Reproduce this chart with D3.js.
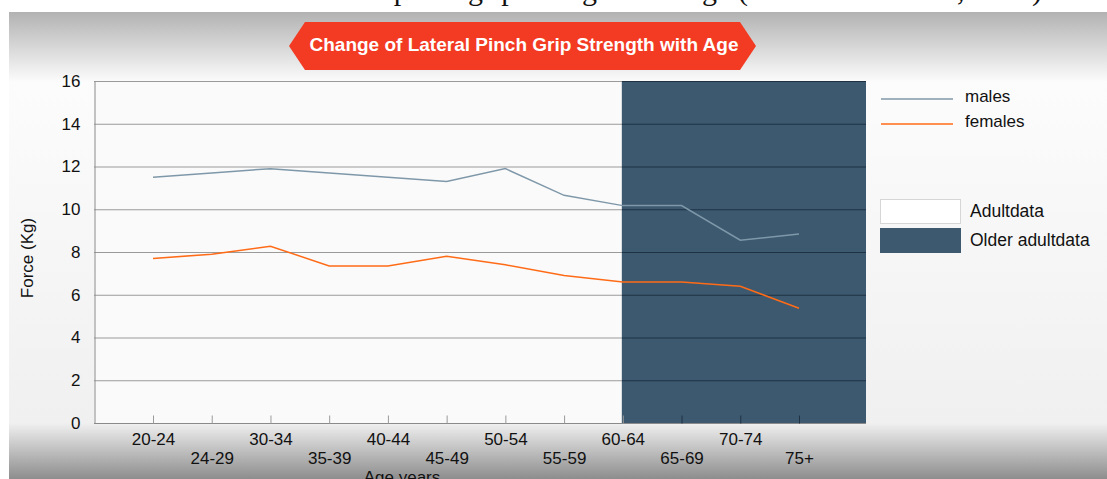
<!DOCTYPE html>
<html>
<head>
<meta charset="utf-8">
<script src="https://cdn.jsdelivr.net/npm/d3@7"></script>
<style>
  body { margin: 0; background: #fff; }
  svg { display: block; font-family: "Liberation Sans", Arial, Helvetica, sans-serif; }
</style>
</head>
<body>
<div id="chart"></div>
<script>
// data
var ageGroups = ['20-24', '24-29', '30-34', '35-39', '40-44', '45-49', '50-54', '55-59', '60-64', '65-69', '70-74', '75+'];
var malesForce = [11.5, 11.7, 11.9, 11.7, 11.5, 11.3, 11.9, 10.65, 10.17, 10.17, 8.55, 8.84];
var femalesForce = [7.7, 7.9, 8.27, 7.35, 7.35, 7.8, 7.4, 6.9, 6.6, 6.6, 6.4, 5.37];
var yTicks = [0, 2, 4, 6, 8, 10, 12, 14, 16];
var olderStart = '60-64';

var seriesNames = ['males', 'females'];
var seriesColors = ['#7f98a9', '#ff6b17'];
var regionNames = ['Adultdata', 'Older adultdata'];
var regionColors = ['#ffffff', '#3c596f'];

var width = 1107, height = 479;
var plotLeft = 94, plotRight = 866, plotTop = 81, plotBottom = 423;

var svg = d3.select('#chart').append('svg')
  .attr('width', width)
  .attr('height', height);

var defs = svg.append('defs');
var bg = defs.append('linearGradient')
  .attr('id', 'slideBg')
  .attr('x1', 0).attr('y1', 0).attr('x2', 0).attr('y2', 1);
bg.append('stop').attr('offset', 0).attr('stop-color', '#b2b2b2');
bg.append('stop').attr('offset', 0.15).attr('stop-color', '#fcfcfc');
bg.append('stop').attr('offset', 0.88).attr('stop-color', '#f0f0f0');
bg.append('stop').attr('offset', 1).attr('stop-color', '#8d8d8d');

// bit of the document text above the slide (mostly hidden, like the screenshot)
svg.append('text')
  .attr('x', 1042)
  .attr('y', 0)
  .attr('text-anchor', 'end')
  .attr('font-family', '"Liberation Serif", "DejaVu Serif", serif')
  .attr('font-size', 30)
  .attr('fill', '#111')
  .text('pinch grip strength with age (Mathiowetz et al., 1985)');

// slide background
svg.append('rect')
  .attr('x', 9).attr('y', 12)
  .attr('width', width - 9).attr('height', height - 12)
  .attr('fill', 'url(#slideBg)');

// title banner
var bannerPts = [[289, 46], [305, 22], [740, 22], [756, 46], [740, 70], [305, 70]];
svg.append('polygon')
  .attr('points', bannerPts.map(function(p){ return p.join(','); }).join(' '))
  .attr('fill', '#f33a22');
svg.append('text')
  .attr('x', 524)
  .attr('y', 51)
  .attr('text-anchor', 'middle')
  .attr('font-weight', 'bold')
  .attr('font-size', 19)
  .attr('fill', '#fff')
  .text('Change of Lateral Pinch Grip Strength with Age');

var x = d3.scalePoint()
  .domain(ageGroups)
  .range([153, 799]);

var y = d3.scaleLinear()
  .domain([0, 16])
  .range([plotBottom, plotTop]);

// plot background and older-adult band
svg.append('rect')
  .attr('x', plotLeft).attr('y', plotTop)
  .attr('width', plotRight - plotLeft).attr('height', plotBottom - plotTop)
  .attr('fill', '#fafafa');

svg.append('rect')
  .attr('x', x(olderStart) - 1).attr('y', plotTop)
  .attr('width', plotRight - x(olderStart) + 1).attr('height', plotBottom - plotTop)
  .attr('fill', regionColors[1]);

// gridlines, light part then dark part
svg.append('g').selectAll('line')
  .data(yTicks.slice(1))
  .enter()
  .append('line')
  .attr('x1', plotLeft).attr('x2', x(olderStart) - 1)
  .attr('y1', function(d){ return y(d) + 0.5; })
  .attr('y2', function(d){ return y(d) + 0.5; })
  .attr('stroke', '#9a9a9a');

svg.append('g').selectAll('line')
  .data(yTicks.slice(1))
  .enter()
  .append('line')
  .attr('x1', x(olderStart) - 1).attr('x2', plotRight)
  .attr('y1', function(d){ return y(d) + 0.5; })
  .attr('y2', function(d){ return y(d) + 0.5; })
  .attr('stroke', '#1f3244');

// y axis
var yAxis = svg.append('g')
  .attr('transform', 'translate(' + (plotLeft + 0.5) + ',0)')
  .call(d3.axisLeft(y).tickValues(yTicks).tickSize(0).tickPadding(14));
yAxis.select('.domain').attr('stroke', '#8a8a8a');
yAxis.selectAll('text')
  .attr('font-size', 17)
  .attr('font-family', '"Liberation Sans", Arial, sans-serif')
  .attr('fill', '#111');

// x axis, ticks point up into the plot, labels on two rows
var xAxis = svg.append('g')
  .attr('transform', 'translate(0,' + (plotBottom + 0.5) + ')')
  .call(d3.axisBottom(x).tickSizeInner(-8).tickSizeOuter(0).tickPadding(0));
xAxis.select('.domain')
  .attr('d', 'M' + plotLeft + ',0H' + plotRight)
  .attr('stroke', '#8a8a8a');
xAxis.selectAll('.tick line')
  .attr('stroke', function(d){ return x(d) > x(olderStart) ? '#1f3244' : '#9a9a9a'; });
xAxis.selectAll('text')
  .attr('font-size', 17)
  .attr('font-family', '"Liberation Sans", Arial, sans-serif')
  .attr('fill', '#111')
  .attr('dy', null)
  .attr('y', function(d, i){ return i % 2 === 0 ? 21 : 40; });

// axis titles
svg.append('text')
  .attr('transform', 'translate(33,258) rotate(-90)')
  .attr('text-anchor', 'middle')
  .attr('font-size', 17)
  .attr('fill', '#111')
  .text('Force (Kg)');

// cut by the bottom edge in the screenshot too
svg.append('text')
  .attr('x', 402)
  .attr('y', 483)
  .attr('text-anchor', 'middle')
  .attr('font-size', 17)
  .attr('fill', '#111')
  .text('Age years');

// lines
var line = d3.line()
  .x(function(d, i){ return x(ageGroups[i]); })
  .y(function(d){ return y(d); });

svg.append('path')
  .datum(malesForce)
  .attr('d', line)
  .attr('fill', 'none')
  .attr('stroke', seriesColors[0])
  .attr('stroke-width', 1.5);

svg.append('path')
  .datum(femalesForce)
  .attr('d', line)
  .attr('fill', 'none')
  .attr('stroke', seriesColors[1])
  .attr('stroke-width', 1.5);

// legend: series
var seriesLegend = svg.append('g').selectAll('g')
  .data(seriesNames)
  .enter()
  .append('g')
  .attr('transform', function(d, i){ return 'translate(881,' + (99 + i * 25) + ')'; });
seriesLegend.append('line')
  .attr('x1', 0).attr('x2', 72)
  .attr('stroke', function(d, i){ return seriesColors[i]; })
  .attr('stroke-width', 1.5);
seriesLegend.append('text')
  .attr('x', 84)
  .attr('y', 3)
  .attr('font-size', 17)
  .attr('fill', '#111')
  .text(function(d){ return d; });

// legend: regions
var regionLegend = svg.append('g').selectAll('g')
  .data(regionNames)
  .enter()
  .append('g')
  .attr('transform', function(d, i){ return 'translate(880,' + (199 + i * 29) + ')'; });
regionLegend.append('rect')
  .attr('x', 0.5).attr('y', 0.5)
  .attr('width', 80).attr('height', 24)
  .attr('fill', function(d, i){ return regionColors[i]; })
  .attr('stroke', function(d, i){ return i === 0 ? '#d6d6d6' : regionColors[i]; });
regionLegend.append('text')
  .attr('x', 90)
  .attr('y', 18)
  .attr('font-size', 17.5)
  .attr('fill', '#111')
  .text(function(d){ return d; });
</script>
</body>
</html>
